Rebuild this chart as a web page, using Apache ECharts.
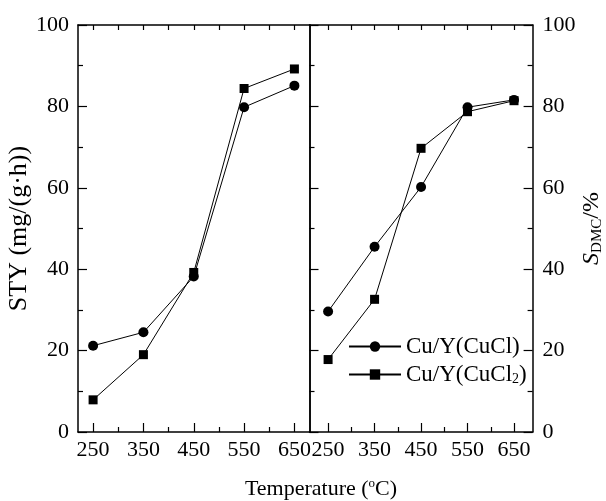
<!DOCTYPE html>
<html>
<head>
<meta charset="utf-8">
<script src="https://cdn.jsdelivr.net/npm/echarts@6/dist/echarts.min.js"></script>
<style>html,body{margin:0;padding:0;background:#fff}#c{width:606px;height:501px}</style>
</head>
<body>
<div id="c"></div>
<script>
const temps = [250, 350, 450, 550, 650];
const xTicks = [250, 350, 450, 550, 650];
const xMinor = [300, 400, 500, 600];
const seriesNames = ['Cu/Y(CuCl)', 'Cu/Y(CuCl2)'];
const styCuCl  = [21.2, 24.5, 38.2, 79.8, 85.1];
const styCuCl2 = [7.9, 19.0, 39.2, 84.4, 89.2];
const sdmcCuCl  = [29.6, 45.5, 60.2, 79.8, 81.6];
const sdmcCuCl2 = [17.8, 32.6, 69.7, 78.7, 81.4];

const FONT = 'Liberation Serif';
const black = '#000';
const chart = echarts.init(document.getElementById('c'));

function pairs(xs, ys) { return xs.map((x, i) => [x, ys[i]]); }

function xAxisSet(grid, min, max) {
  const line = {show: true, lineStyle: {color: black, width: 1.5}};
  const base = {type: 'value', gridIndex: grid, min: min, max: max, splitLine: {show: false}};
  return [
    Object.assign({}, base, {position: 'bottom', axisLine: line,
      axisTick: {show: true, inside: true, length: 9, customValues: xTicks, lineStyle: {color: black, width: 1.2}},
      axisLabel: {show: true, customValues: xTicks, margin: 7, color: black, fontFamily: FONT, fontSize: 22}}),
    Object.assign({}, base, {position: 'bottom', axisLine: {show: false},
      axisTick: {show: true, inside: true, length: 5, customValues: xMinor, lineStyle: {color: black, width: 1.2}},
      axisLabel: {show: false}}),
    Object.assign({}, base, {position: 'top', axisLine: line,
      axisTick: {show: true, inside: true, length: 5, customValues: xTicks, lineStyle: {color: black, width: 1.2}},
      axisLabel: {show: false}}),
    Object.assign({}, base, {position: 'top', axisLine: {show: false},
      axisTick: {show: true, inside: true, length: 5, customValues: xMinor, lineStyle: {color: black, width: 1.2}},
      axisLabel: {show: false}})
  ];
}

const yBase = {type: 'value', min: 0, max: 100, interval: 20, splitLine: {show: false}};
const yLine = {show: true, lineStyle: {color: black, width: 1.5}};
const yTick = {show: true, inside: true, length: 9, lineStyle: {color: black, width: 1.2}};
const yMinor = {show: true, splitNumber: 2, length: 5, lineStyle: {color: black, width: 1.2}};
const yLabel = {show: true, color: black, fontFamily: FONT, fontSize: 22, margin: 9};

const option = {
  animation: false,
  backgroundColor: '#fff',
  grid: [
    {left: 78, top: 25, width: 231.5, height: 407},
    {left: 309.5, top: 25, width: 231.5, height: 407}
  ],
  xAxis: [].concat(xAxisSet(0, 220, 680), xAxisSet(1, 210, 690)),
  yAxis: [
    Object.assign({}, yBase, {gridIndex: 0, position: 'left', axisLine: yLine, axisTick: yTick, minorTick: yMinor, axisLabel: yLabel,
      name: 'STY (mg/(g·h))', nameLocation: 'middle', nameGap: 43, nameRotate: 90,
      nameTextStyle: {color: black, fontFamily: FONT, fontSize: 26}}),
    Object.assign({}, yBase, {gridIndex: 0, position: 'right', axisLine: yLine, axisTick: {show: false}, axisLabel: {show: false}}),
    Object.assign({}, yBase, {gridIndex: 1, position: 'left', axisLine: yLine, axisTick: yTick, minorTick: yMinor, axisLabel: {show: false}}),
    Object.assign({}, yBase, {gridIndex: 1, position: 'right', axisLine: yLine, axisTick: yTick, minorTick: yMinor,
      axisLabel: Object.assign({}, yLabel, {margin: 10}),
      name: '{i|S}{s|DMC}{n|/%}', nameLocation: 'middle', nameGap: 44, nameRotate: 90,
      nameTextStyle: {color: black, fontFamily: FONT, fontSize: 23,
        rich: {
          i: {fontFamily: FONT, fontSize: 24, fontStyle: 'italic', color: black},
          s: {fontFamily: FONT, fontSize: 15, color: black, padding: [12, 0, 0, 0]},
          n: {fontFamily: FONT, fontSize: 24, color: black}
        }}})
  ],
  legend: {
    orient: 'vertical', left: 343, top: 330,
    itemWidth: 52, itemHeight: 13, itemGap: 5,
    data: seriesNames,
    formatter: function (name) {
      return name === 'Cu/Y(CuCl2)' ? '{n|Cu/Y(CuCl}{s|2}{n|)}' : '{n|' + name + '}';
    },
    textStyle: {color: black, fontFamily: FONT, fontSize: 23,
      rich: {
        n: {fontFamily: FONT, fontSize: 23, color: black},
        s: {fontFamily: FONT, fontSize: 14, color: black, padding: [10, 0, 0, 0]}
      }}
  },
  graphic: [{
    type: 'text', x: 321, y: 489,
    style: {
      text: '{n|Temperature (}{o|o}{n|C)}',
      align: 'center', verticalAlign: 'middle',
      rich: {
        n: {fontFamily: FONT, fontSize: 22, fill: black},
        o: {fontFamily: FONT, fontSize: 13, fill: black, padding: [0, 0, 10, 0]}
      }
    }
  }],
  series: [
    {name: seriesNames[0], type: 'line', xAxisIndex: 0, yAxisIndex: 0, data: pairs(temps, styCuCl),
      symbol: 'circle', symbolSize: 10, itemStyle: {color: black}, lineStyle: {color: black, width: 1}},
    {name: seriesNames[1], type: 'line', xAxisIndex: 0, yAxisIndex: 0, data: pairs(temps, styCuCl2),
      symbol: 'rect', symbolSize: 9, itemStyle: {color: black}, lineStyle: {color: black, width: 1}},
    {name: seriesNames[0], type: 'line', xAxisIndex: 4, yAxisIndex: 3, data: pairs(temps, sdmcCuCl),
      symbol: 'circle', symbolSize: 10, itemStyle: {color: black}, lineStyle: {color: black, width: 1}},
    {name: seriesNames[1], type: 'line', xAxisIndex: 4, yAxisIndex: 3, data: pairs(temps, sdmcCuCl2),
      symbol: 'rect', symbolSize: 9, itemStyle: {color: black}, lineStyle: {color: black, width: 1}}
  ]
};
chart.setOption(option);
</script>
</body>
</html>
